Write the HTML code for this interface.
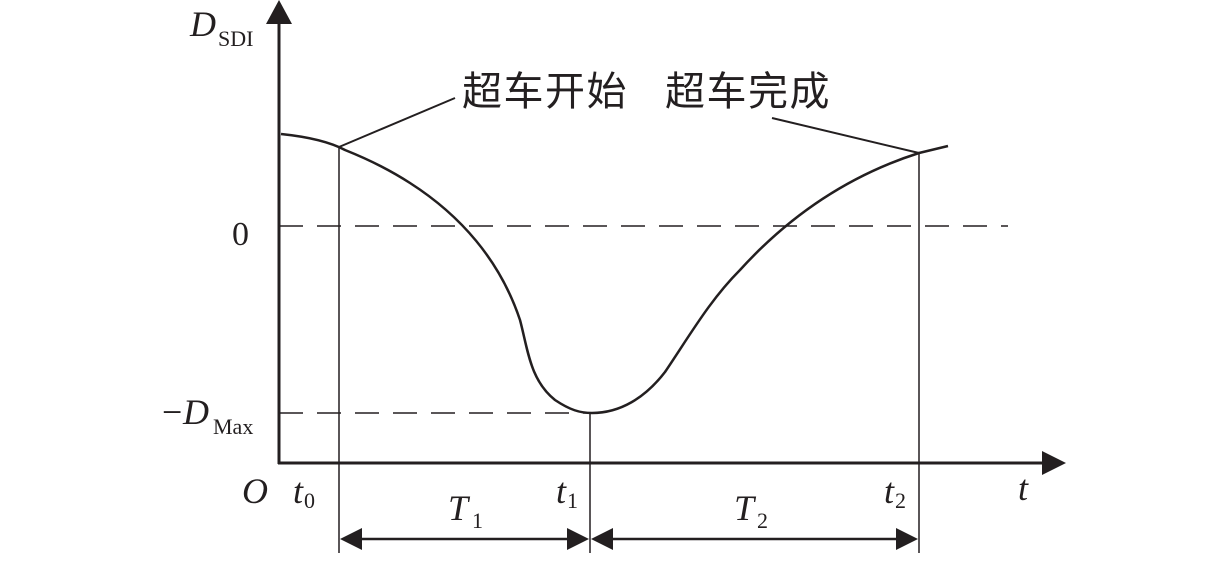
<!DOCTYPE html>
<html><head><style>body{margin:0;background:#fff}</style></head><body>
<svg width="1228" height="558" viewBox="0 0 1228 558" xmlns="http://www.w3.org/2000/svg">
<g stroke="#231f20" fill="none">
<line x1="279" y1="18" x2="279" y2="464" stroke-width="3"/>
<line x1="278" y1="463" x2="1045" y2="463" stroke-width="3"/>
<line x1="279" y1="226" x2="1008" y2="226" stroke-width="1.5" stroke-dasharray="24,14"/>
<line x1="279" y1="413" x2="590" y2="413" stroke-width="1.5" stroke-dasharray="24,14"/>
<line x1="339" y1="147" x2="339" y2="553" stroke-width="1.5"/>
<line x1="590" y1="413" x2="590" y2="553" stroke-width="1.5"/>
<line x1="919" y1="153" x2="919" y2="553" stroke-width="1.5"/>
<line x1="355" y1="539" x2="575" y2="539" stroke-width="2.5"/>
<line x1="606" y1="539" x2="903" y2="539" stroke-width="2.5"/>
<path d="M281,134 C310,137 330,142 345,150 C370,160 390,170 410,183 C460,215 500,260 520,320 C528,350 530,380 555,400 C570,410 580,413 592,413 C620,413 645,398 665,372 C690,335 710,300 740,270 C790,215 850,175 919,153 L948,146" stroke-width="2.5"/>
<line x1="339" y1="147" x2="455" y2="98" stroke-width="2"/>
<line x1="772" y1="118" x2="919" y2="153" stroke-width="2"/>
</g>
<g fill="#231f20">
<polygon points="279,0 266,24 292,24"/>
<polygon points="1066,463 1042,451 1042,475"/>
<polygon points="340,539 362,528 362,550"/>
<polygon points="589,539 567,528 567,550"/>
<polygon points="591,539 613,528 613,550"/>
<polygon points="918,539 896,528 896,550"/>
</g>
<g font-family="Liberation Serif, serif" fill="#231f20">
<text x="190" y="36" font-size="36" font-style="italic">D</text><text x="218" y="46" font-size="22">SDI</text>
<text x="232" y="245" font-size="34">0</text>
<text x="162" y="424" font-size="36">−</text><text x="183" y="424" font-size="36" font-style="italic">D</text><text x="213" y="434" font-size="22">Max</text>
<text x="242" y="503" font-size="36" font-style="italic">O</text>
<text x="293" y="503" font-size="36" font-style="italic">t</text><text x="304" y="508" font-size="22">0</text>
<text x="448" y="520" font-size="36" font-style="italic">T</text><text x="472" y="528" font-size="22">1</text>
<text x="556" y="503" font-size="36" font-style="italic">t</text><text x="567" y="508" font-size="22">1</text>
<text x="734" y="520" font-size="36" font-style="italic">T</text><text x="757" y="528" font-size="22">2</text>
<text x="884" y="503" font-size="36" font-style="italic">t</text><text x="895" y="508" font-size="22">2</text>
<text x="1018" y="500" font-size="36" font-style="italic">t</text>
</g>
<text x="462" y="105" font-family="Liberation Sans, Noto Sans CJK SC, sans-serif" font-size="40" letter-spacing="1.5" fill="#231f20">超车开始</text>
<text x="665" y="105" font-family="Liberation Sans, Noto Sans CJK SC, sans-serif" font-size="40" letter-spacing="1.5" fill="#231f20">超车完成</text>
</svg>
</body></html>
